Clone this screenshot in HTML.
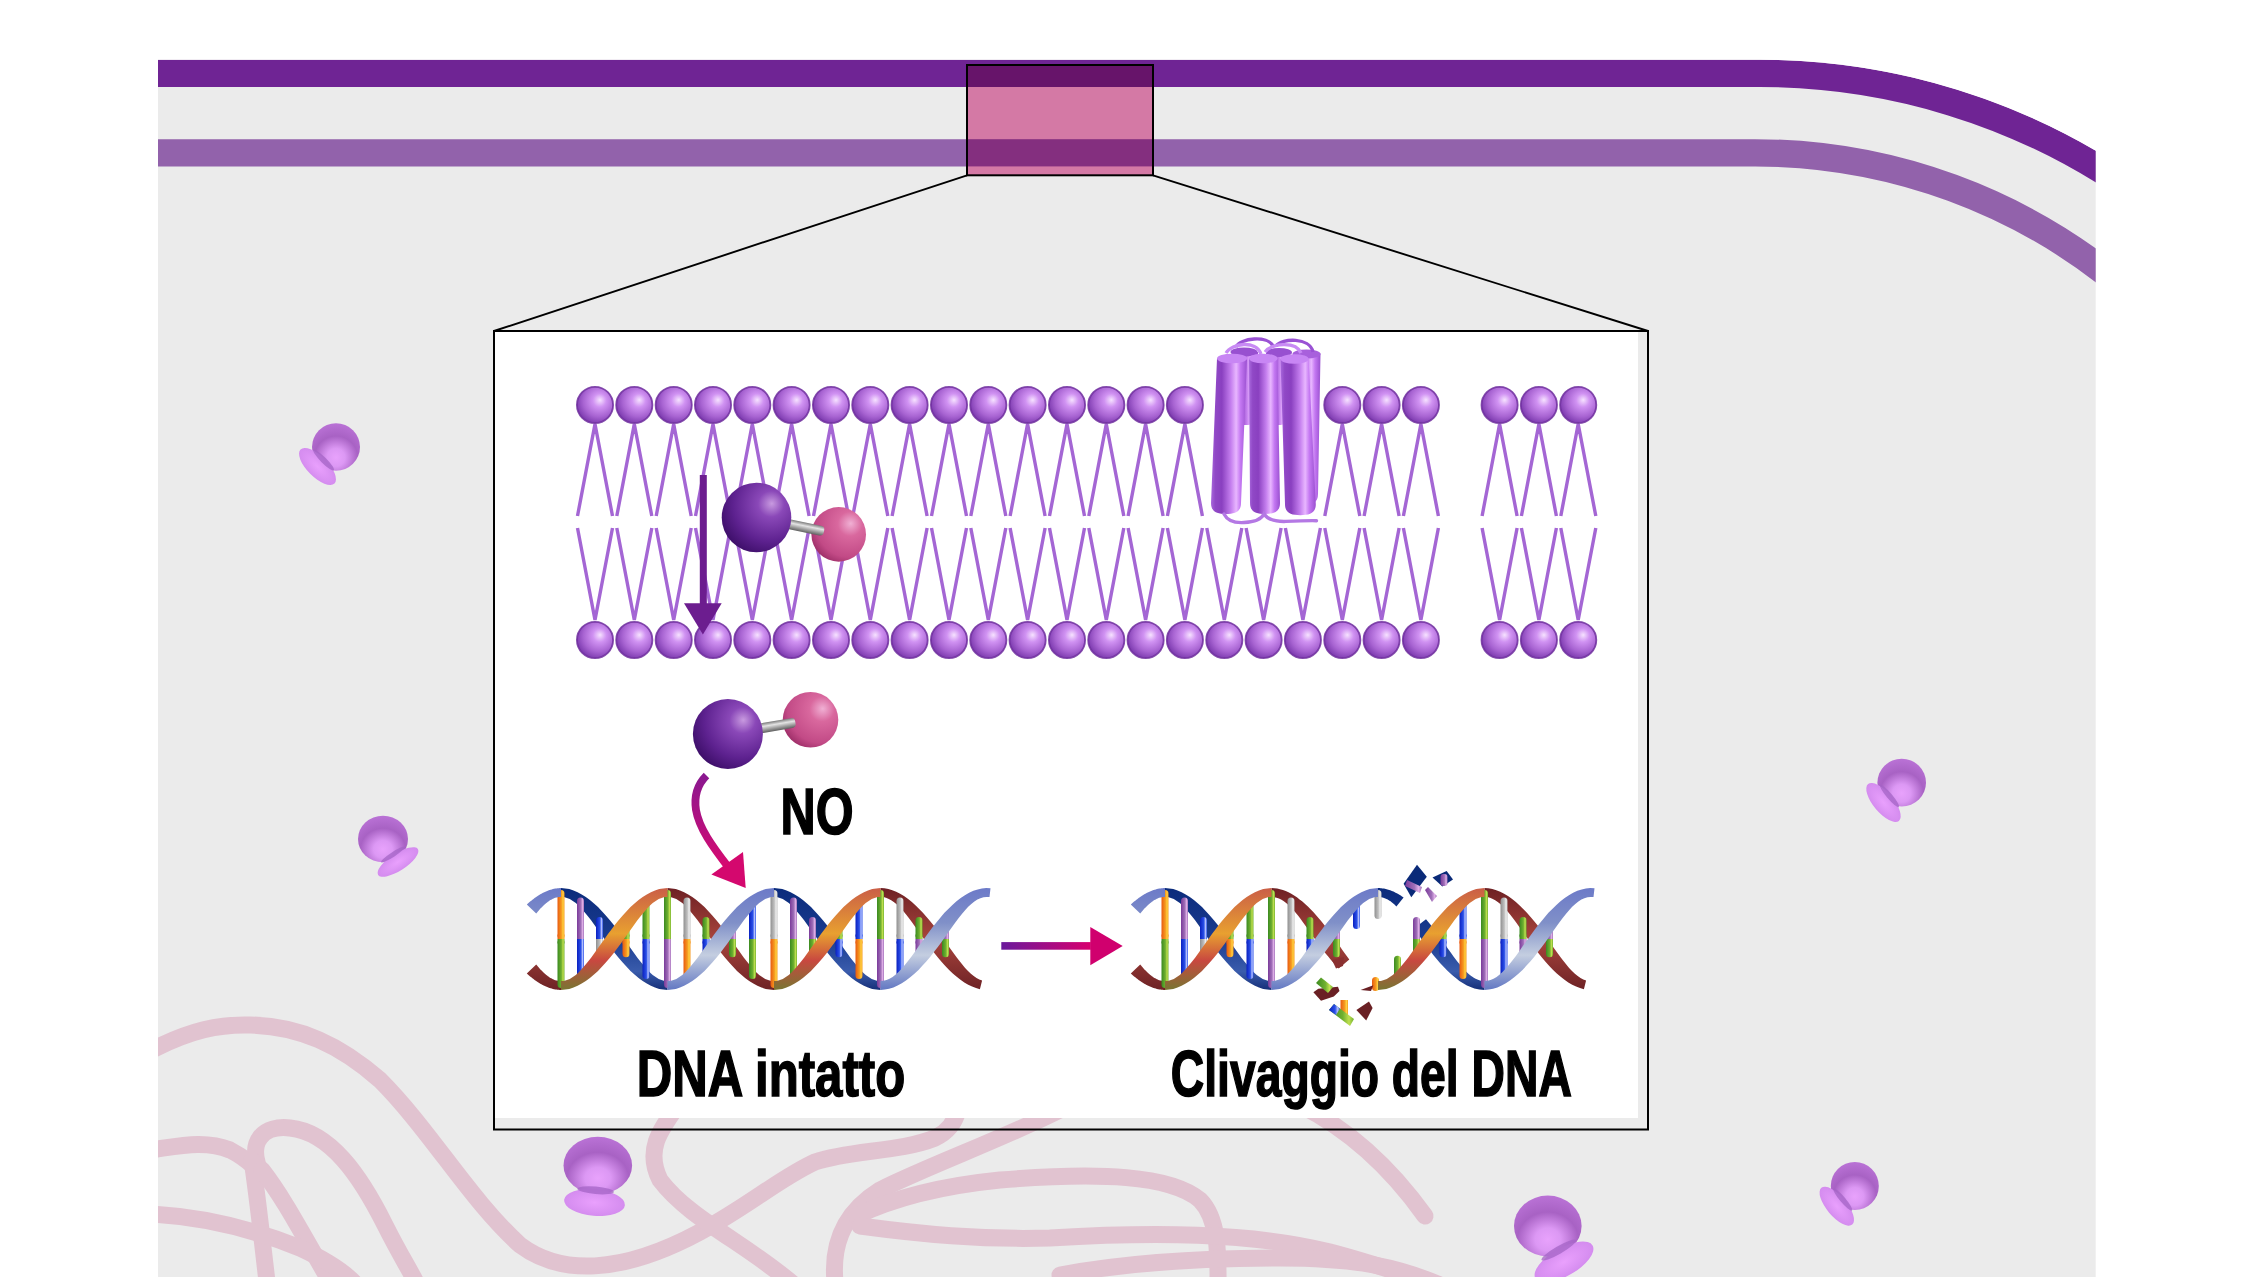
<!DOCTYPE html>
<html><head><meta charset="utf-8"><style>
html,body{margin:0;padding:0;background:#fff;width:2267px;height:1277px;overflow:hidden}
svg{display:block}
text{font-family:"Liberation Sans",sans-serif}
</style></head><body><svg width="2267" height="1277" viewBox="0 0 2267 1277"><defs>
<radialGradient id="head" cx="0.6" cy="0.4" r="0.62" fx="0.64" fy="0.36">
  <stop offset="0" stop-color="#f6e2ff"/>
  <stop offset="0.3" stop-color="#d092f2"/>
  <stop offset="0.7" stop-color="#a864d2"/>
  <stop offset="1" stop-color="#7e3cb0"/>
</radialGradient>
<radialGradient id="atomN" cx="0.68" cy="0.32" r="0.75" fx="0.72" fy="0.3">
  <stop offset="0" stop-color="#c89ae0"/>
  <stop offset="0.25" stop-color="#8a48b8"/>
  <stop offset="0.7" stop-color="#5e2290"/>
  <stop offset="1" stop-color="#3e0f6a"/>
</radialGradient>
<radialGradient id="atomO" cx="0.68" cy="0.32" r="0.75" fx="0.72" fy="0.3">
  <stop offset="0" stop-color="#f0b0d4"/>
  <stop offset="0.3" stop-color="#d9689e"/>
  <stop offset="0.8" stop-color="#c24a86"/>
  <stop offset="1" stop-color="#a0306a"/>
</radialGradient>
<linearGradient id="bond" x1="0" y1="0" x2="0" y2="1">
  <stop offset="0" stop-color="#7a7a7a"/>
  <stop offset="0.35" stop-color="#e4e4e4"/>
  <stop offset="0.6" stop-color="#b0b0b0"/>
  <stop offset="1" stop-color="#606060"/>
</linearGradient>
<radialGradient id="ribo" cx="0.5" cy="0.72" r="0.75">
  <stop offset="0" stop-color="#e8a2fc"/>
  <stop offset="0.25" stop-color="#dc98f4"/>
  <stop offset="0.6" stop-color="#a862c4"/>
  <stop offset="1" stop-color="#bc74d8"/>
</radialGradient>
<radialGradient id="ribo2" cx="0.5" cy="0.5" r="0.6">
  <stop offset="0" stop-color="#e9a0fd"/>
  <stop offset="1" stop-color="#d088ec"/>
</radialGradient>
<linearGradient id="cyl" x1="0" y1="0" x2="1" y2="0">
  <stop offset="0" stop-color="#a868dc"/>
  <stop offset="0.12" stop-color="#9048c6"/>
  <stop offset="0.3" stop-color="#8a40c0"/>
  <stop offset="0.55" stop-color="#c47eee"/>
  <stop offset="0.7" stop-color="#e8b6ff"/>
  <stop offset="0.82" stop-color="#c478f2"/>
  <stop offset="1" stop-color="#9a50d0"/>
</linearGradient>
<linearGradient id="arrow1" x1="0" y1="0" x2="0" y2="1">
  <stop offset="0" stop-color="#8a1890"/>
  <stop offset="1" stop-color="#d80a70"/>
</linearGradient>
<linearGradient id="arrow2" x1="0" y1="0" x2="1" y2="0">
  <stop offset="0" stop-color="#6a1a9c"/>
  <stop offset="1" stop-color="#d8006e"/>
</linearGradient>
<linearGradient id="baro" x1="0" y1="0" x2="1" y2="0"><stop offset="0" stop-color="#e85a10"/><stop offset="0.55" stop-color="#f59a20"/><stop offset="0.8" stop-color="#ffd040"/><stop offset="1" stop-color="#f59a20"/></linearGradient><linearGradient id="barg" x1="0" y1="0" x2="1" y2="0"><stop offset="0" stop-color="#3a8a20"/><stop offset="0.55" stop-color="#70b030"/><stop offset="0.8" stop-color="#c0e050"/><stop offset="1" stop-color="#70b030"/></linearGradient><linearGradient id="barp" x1="0" y1="0" x2="1" y2="0"><stop offset="0" stop-color="#7a3a9a"/><stop offset="0.55" stop-color="#a070b8"/><stop offset="0.8" stop-color="#e0b0e8"/><stop offset="1" stop-color="#a070b8"/></linearGradient><linearGradient id="barb" x1="0" y1="0" x2="1" y2="0"><stop offset="0" stop-color="#0a20c0"/><stop offset="0.55" stop-color="#2a50e8"/><stop offset="0.8" stop-color="#b8c4ff"/><stop offset="1" stop-color="#2a50e8"/></linearGradient><linearGradient id="bary" x1="0" y1="0" x2="1" y2="0"><stop offset="0" stop-color="#909090"/><stop offset="0.55" stop-color="#c0c0c0"/><stop offset="0.8" stop-color="#f0f0f0"/><stop offset="1" stop-color="#c0c0c0"/></linearGradient><linearGradient id="Aback" gradientUnits="userSpaceOnUse" x1="0" y1="885" x2="0" y2="993"><stop offset="0" stop-color="#0a2a7a"/><stop offset="0.5" stop-color="#1a3c90"/><stop offset="0.8" stop-color="#3a5cac"/><stop offset="1" stop-color="#102870"/></linearGradient><linearGradient id="Afront" gradientUnits="userSpaceOnUse" x1="0" y1="885" x2="0" y2="993"><stop offset="0" stop-color="#6a78c8"/><stop offset="0.35" stop-color="#8090c8"/><stop offset="0.65" stop-color="#c4cee0"/><stop offset="1" stop-color="#5a70c0"/></linearGradient><linearGradient id="Bback" gradientUnits="userSpaceOnUse" x1="0" y1="885" x2="0" y2="993"><stop offset="0" stop-color="#6a1e22"/><stop offset="0.5" stop-color="#a8443c"/><stop offset="1" stop-color="#6a2024"/></linearGradient><linearGradient id="Bfront" gradientUnits="userSpaceOnUse" x1="0" y1="885" x2="0" y2="993"><stop offset="0" stop-color="#c85a48"/><stop offset="0.45" stop-color="#e8a030"/><stop offset="0.7" stop-color="#c84840"/><stop offset="1" stop-color="#707a30"/></linearGradient><clipPath id="grayclip"><path d="M158,59.8 L1760,59.8 A665.6,665.6 0 0 1 2095.7,150.7 L2095.7,1277 L158,1277 Z"/></clipPath></defs><path d="M158,59.8 L1760,59.8 A665.6,665.6 0 0 1 2095.7,150.7 L2095.7,1277 L158,1277 Z" fill="#ebebeb"/><g clip-path="url(#grayclip)" fill="none" stroke="#e1c3d0" stroke-width="17" stroke-linecap="round"><path d="M150,1051 C190,1030 220,1024 250,1025 C300,1026 340,1045 380,1080 C430,1130 470,1200 520,1245 C560,1275 620,1275 700,1232 C750,1205 780,1178 815,1162 C850,1150 900,1152 935,1138 C948,1132 955,1122 958,1110"/><path d="M150,1150 C180,1146 205,1140 230,1150 C250,1160 262,1175 262,1175"/><path d="M262,1175 C245,1140 265,1125 290,1128 C330,1132 360,1175 385,1225 C400,1255 410,1270 420,1290"/><path d="M252,1160 C258,1200 262,1240 268,1290"/><path d="M262,1170 C285,1200 300,1230 335,1290"/><path d="M150,1214 C200,1216 250,1228 300,1248 C330,1262 350,1275 360,1290"/><path d="M678,1105 C660,1130 645,1150 660,1180 C690,1220 750,1245 800,1290"/><path d="M1060,1110 C1000,1140 930,1165 880,1190 C840,1215 830,1250 836,1290"/><path d="M856,1216 C900,1195 950,1185 1000,1180 C1100,1172 1170,1175 1200,1200 C1220,1220 1218,1260 1218,1290"/><path d="M860,1226 C920,1234 980,1240 1050,1238 C1150,1232 1250,1232 1330,1252 C1380,1265 1420,1280 1450,1290"/><path d="M1060,1275 C1130,1262 1200,1258 1280,1258 C1360,1258 1400,1268 1440,1285"/><path d="M1300,1105 C1340,1125 1385,1160 1425,1216"/></g><g clip-path="url(#grayclip)"><path d="M150,73.4 L1760,73.4 A652,652 0 0 1 2125.7,185.6" fill="none" stroke="#6f2494" stroke-width="27.3"/><path d="M150,152.8 L1755,152.8 A572.6,572.6 0 0 1 2125.7,289.0" fill="none" stroke="#9262ab" stroke-width="27.3"/></g><rect x="967" y="65" width="186" height="110.3" fill="#d479a5"/><rect x="967" y="65" width="186" height="22" fill="#67146a"/><rect x="967" y="139.2" width="186" height="27.2" fill="#842f7f"/><rect x="967" y="65" width="186" height="110.3" fill="none" stroke="#000" stroke-width="2"/><path d="M967,175.3 L494,331 M1153,175.3 L1648,331" stroke="#000" stroke-width="1.9" fill="none"/><g><ellipse cx="336" cy="447" rx="24" ry="23.8" fill="url(#ribo)" transform="rotate(0 336 447)"/><ellipse cx="317.5" cy="466.5" rx="24" ry="10.3" fill="url(#ribo2)" transform="rotate(45 317.5 466.5)"/><ellipse cx="323.6" cy="460.1" rx="14.4" ry="2.9" fill="#a464c6" opacity="0.75" transform="rotate(45 323.6 460.1)"/></g><g><ellipse cx="383" cy="839" rx="25" ry="23.3" fill="url(#ribo)" transform="rotate(0 383 839)"/><ellipse cx="398" cy="862" rx="23.7" ry="8.5" fill="url(#ribo2)" transform="rotate(-33 398 862)"/><ellipse cx="393.1" cy="854.4" rx="14.2" ry="2.4" fill="#a464c6" opacity="0.75" transform="rotate(-33 393.1 854.4)"/></g><g><ellipse cx="597.8" cy="1165.5" rx="34.3" ry="28.7" fill="url(#ribo)" transform="rotate(0 597.8 1165.5)"/><ellipse cx="594.5" cy="1202.5" rx="30.5" ry="13.4" fill="url(#ribo2)" transform="rotate(5 594.5 1202.5)"/><ellipse cx="595.6" cy="1190.3" rx="18.3" ry="3.8" fill="#a464c6" opacity="0.75" transform="rotate(5 595.6 1190.3)"/></g><g><ellipse cx="1901.7" cy="782.7" rx="24.3" ry="23.9" fill="url(#ribo)" transform="rotate(0 1901.7 782.7)"/><ellipse cx="1883.5" cy="802.5" rx="24" ry="10" fill="url(#ribo2)" transform="rotate(50 1883.5 802.5)"/><ellipse cx="1889.5" cy="796.0" rx="14.4" ry="2.8" fill="#a464c6" opacity="0.75" transform="rotate(50 1889.5 796.0)"/></g><g><ellipse cx="1854.8" cy="1186" rx="24" ry="24" fill="url(#ribo)" transform="rotate(0 1854.8 1186)"/><ellipse cx="1836.8" cy="1206.2" rx="24" ry="10" fill="url(#ribo2)" transform="rotate(50 1836.8 1206.2)"/><ellipse cx="1842.7" cy="1199.5" rx="14.4" ry="2.8" fill="#a464c6" opacity="0.75" transform="rotate(50 1842.7 1199.5)"/></g><g><ellipse cx="1547.8" cy="1226" rx="33.8" ry="30.4" fill="url(#ribo)" transform="rotate(0 1547.8 1226)"/><ellipse cx="1564" cy="1262" rx="33" ry="14" fill="url(#ribo2)" transform="rotate(-30 1564 1262)"/><ellipse cx="1558.7" cy="1250.1" rx="19.8" ry="3.9" fill="#a464c6" opacity="0.75" transform="rotate(-30 1558.7 1250.1)"/></g><rect x="494" y="331" width="1144" height="787" fill="#ffffff"/><rect x="494" y="331" width="1154" height="798.5" fill="none" stroke="#000" stroke-width="2"/><path d="M577.5,516 L595.0,424 L612.5,516 M616.8,516 L634.3,424 L651.8,516 M656.2,516 L673.7,424 L691.2,516 M695.5,516 L713.0,424 L730.5,516 M734.8,516 L752.3,424 L769.8,516 M774.1,516 L791.6,424 L809.1,516 M813.5,516 L831.0,424 L848.5,516 M852.8,516 L870.3,424 L887.8,516 M892.1,516 L909.6,424 L927.1,516 M931.5,516 L949.0,424 L966.5,516 M970.8,516 L988.3,424 L1005.8,516 M1010.1,516 L1027.6,424 L1045.1,516 M1049.5,516 L1067.0,424 L1084.5,516 M1088.8,516 L1106.3,424 L1123.8,516 M1128.1,516 L1145.6,424 L1163.1,516 M1167.4,516 L1184.9,424 L1202.4,516 M1324.8,516 L1342.3,424 L1359.8,516 M1364.1,516 L1381.6,424 L1399.1,516 M1403.4,516 L1420.9,424 L1438.4,516 M1482.1,516 L1499.6,424 L1517.1,516 M1521.4,516 L1538.9,424 L1556.4,516 M1560.8,516 L1578.2,424 L1595.8,516 M577.5,528 L595.0,620 L612.5,528 M616.8,528 L634.3,620 L651.8,528 M656.2,528 L673.7,620 L691.2,528 M695.5,528 L713.0,620 L730.5,528 M734.8,528 L752.3,620 L769.8,528 M774.1,528 L791.6,620 L809.1,528 M813.5,528 L831.0,620 L848.5,528 M852.8,528 L870.3,620 L887.8,528 M892.1,528 L909.6,620 L927.1,528 M931.5,528 L949.0,620 L966.5,528 M970.8,528 L988.3,620 L1005.8,528 M1010.1,528 L1027.6,620 L1045.1,528 M1049.5,528 L1067.0,620 L1084.5,528 M1088.8,528 L1106.3,620 L1123.8,528 M1128.1,528 L1145.6,620 L1163.1,528 M1167.4,528 L1184.9,620 L1202.4,528 M1206.8,528 L1224.3,620 L1241.8,528 M1246.1,528 L1263.6,620 L1281.1,528 M1285.4,528 L1302.9,620 L1320.4,528 M1324.8,528 L1342.3,620 L1359.8,528 M1364.1,528 L1381.6,620 L1399.1,528 M1403.4,528 L1420.9,620 L1438.4,528 M1482.1,528 L1499.6,620 L1517.1,528 M1521.4,528 L1538.9,620 L1556.4,528 M1560.8,528 L1578.2,620 L1595.8,528" fill="none" stroke="#a466d4" stroke-width="3.4"/><circle cx="595.0" cy="405" r="18.1" fill="url(#head)" stroke="#6e2e9e" stroke-opacity="0.85" stroke-width="1.8"/><circle cx="634.3" cy="405" r="18.1" fill="url(#head)" stroke="#6e2e9e" stroke-opacity="0.85" stroke-width="1.8"/><circle cx="673.7" cy="405" r="18.1" fill="url(#head)" stroke="#6e2e9e" stroke-opacity="0.85" stroke-width="1.8"/><circle cx="713.0" cy="405" r="18.1" fill="url(#head)" stroke="#6e2e9e" stroke-opacity="0.85" stroke-width="1.8"/><circle cx="752.3" cy="405" r="18.1" fill="url(#head)" stroke="#6e2e9e" stroke-opacity="0.85" stroke-width="1.8"/><circle cx="791.6" cy="405" r="18.1" fill="url(#head)" stroke="#6e2e9e" stroke-opacity="0.85" stroke-width="1.8"/><circle cx="831.0" cy="405" r="18.1" fill="url(#head)" stroke="#6e2e9e" stroke-opacity="0.85" stroke-width="1.8"/><circle cx="870.3" cy="405" r="18.1" fill="url(#head)" stroke="#6e2e9e" stroke-opacity="0.85" stroke-width="1.8"/><circle cx="909.6" cy="405" r="18.1" fill="url(#head)" stroke="#6e2e9e" stroke-opacity="0.85" stroke-width="1.8"/><circle cx="949.0" cy="405" r="18.1" fill="url(#head)" stroke="#6e2e9e" stroke-opacity="0.85" stroke-width="1.8"/><circle cx="988.3" cy="405" r="18.1" fill="url(#head)" stroke="#6e2e9e" stroke-opacity="0.85" stroke-width="1.8"/><circle cx="1027.6" cy="405" r="18.1" fill="url(#head)" stroke="#6e2e9e" stroke-opacity="0.85" stroke-width="1.8"/><circle cx="1067.0" cy="405" r="18.1" fill="url(#head)" stroke="#6e2e9e" stroke-opacity="0.85" stroke-width="1.8"/><circle cx="1106.3" cy="405" r="18.1" fill="url(#head)" stroke="#6e2e9e" stroke-opacity="0.85" stroke-width="1.8"/><circle cx="1145.6" cy="405" r="18.1" fill="url(#head)" stroke="#6e2e9e" stroke-opacity="0.85" stroke-width="1.8"/><circle cx="1184.9" cy="405" r="18.1" fill="url(#head)" stroke="#6e2e9e" stroke-opacity="0.85" stroke-width="1.8"/><circle cx="1342.3" cy="405" r="18.1" fill="url(#head)" stroke="#6e2e9e" stroke-opacity="0.85" stroke-width="1.8"/><circle cx="1381.6" cy="405" r="18.1" fill="url(#head)" stroke="#6e2e9e" stroke-opacity="0.85" stroke-width="1.8"/><circle cx="1420.9" cy="405" r="18.1" fill="url(#head)" stroke="#6e2e9e" stroke-opacity="0.85" stroke-width="1.8"/><circle cx="1499.6" cy="405" r="18.1" fill="url(#head)" stroke="#6e2e9e" stroke-opacity="0.85" stroke-width="1.8"/><circle cx="1538.9" cy="405" r="18.1" fill="url(#head)" stroke="#6e2e9e" stroke-opacity="0.85" stroke-width="1.8"/><circle cx="1578.2" cy="405" r="18.1" fill="url(#head)" stroke="#6e2e9e" stroke-opacity="0.85" stroke-width="1.8"/><circle cx="595.0" cy="640" r="18.1" fill="url(#head)" stroke="#6e2e9e" stroke-opacity="0.85" stroke-width="1.8"/><circle cx="634.3" cy="640" r="18.1" fill="url(#head)" stroke="#6e2e9e" stroke-opacity="0.85" stroke-width="1.8"/><circle cx="673.7" cy="640" r="18.1" fill="url(#head)" stroke="#6e2e9e" stroke-opacity="0.85" stroke-width="1.8"/><circle cx="713.0" cy="640" r="18.1" fill="url(#head)" stroke="#6e2e9e" stroke-opacity="0.85" stroke-width="1.8"/><circle cx="752.3" cy="640" r="18.1" fill="url(#head)" stroke="#6e2e9e" stroke-opacity="0.85" stroke-width="1.8"/><circle cx="791.6" cy="640" r="18.1" fill="url(#head)" stroke="#6e2e9e" stroke-opacity="0.85" stroke-width="1.8"/><circle cx="831.0" cy="640" r="18.1" fill="url(#head)" stroke="#6e2e9e" stroke-opacity="0.85" stroke-width="1.8"/><circle cx="870.3" cy="640" r="18.1" fill="url(#head)" stroke="#6e2e9e" stroke-opacity="0.85" stroke-width="1.8"/><circle cx="909.6" cy="640" r="18.1" fill="url(#head)" stroke="#6e2e9e" stroke-opacity="0.85" stroke-width="1.8"/><circle cx="949.0" cy="640" r="18.1" fill="url(#head)" stroke="#6e2e9e" stroke-opacity="0.85" stroke-width="1.8"/><circle cx="988.3" cy="640" r="18.1" fill="url(#head)" stroke="#6e2e9e" stroke-opacity="0.85" stroke-width="1.8"/><circle cx="1027.6" cy="640" r="18.1" fill="url(#head)" stroke="#6e2e9e" stroke-opacity="0.85" stroke-width="1.8"/><circle cx="1067.0" cy="640" r="18.1" fill="url(#head)" stroke="#6e2e9e" stroke-opacity="0.85" stroke-width="1.8"/><circle cx="1106.3" cy="640" r="18.1" fill="url(#head)" stroke="#6e2e9e" stroke-opacity="0.85" stroke-width="1.8"/><circle cx="1145.6" cy="640" r="18.1" fill="url(#head)" stroke="#6e2e9e" stroke-opacity="0.85" stroke-width="1.8"/><circle cx="1184.9" cy="640" r="18.1" fill="url(#head)" stroke="#6e2e9e" stroke-opacity="0.85" stroke-width="1.8"/><circle cx="1224.3" cy="640" r="18.1" fill="url(#head)" stroke="#6e2e9e" stroke-opacity="0.85" stroke-width="1.8"/><circle cx="1263.6" cy="640" r="18.1" fill="url(#head)" stroke="#6e2e9e" stroke-opacity="0.85" stroke-width="1.8"/><circle cx="1302.9" cy="640" r="18.1" fill="url(#head)" stroke="#6e2e9e" stroke-opacity="0.85" stroke-width="1.8"/><circle cx="1342.3" cy="640" r="18.1" fill="url(#head)" stroke="#6e2e9e" stroke-opacity="0.85" stroke-width="1.8"/><circle cx="1381.6" cy="640" r="18.1" fill="url(#head)" stroke="#6e2e9e" stroke-opacity="0.85" stroke-width="1.8"/><circle cx="1420.9" cy="640" r="18.1" fill="url(#head)" stroke="#6e2e9e" stroke-opacity="0.85" stroke-width="1.8"/><circle cx="1499.6" cy="640" r="18.1" fill="url(#head)" stroke="#6e2e9e" stroke-opacity="0.85" stroke-width="1.8"/><circle cx="1538.9" cy="640" r="18.1" fill="url(#head)" stroke="#6e2e9e" stroke-opacity="0.85" stroke-width="1.8"/><circle cx="1578.2" cy="640" r="18.1" fill="url(#head)" stroke="#6e2e9e" stroke-opacity="0.85" stroke-width="1.8"/><path d="M1233,352 L1258,352 L1258,416 C1258,423.2 1253.0,425 1245.5,425 C1238.0,425 1233,423.2 1233,416 Z" fill="url(#cyl)"/><path d="M1266,352 L1290,352 L1290,416 C1290,423.2 1285.2,425 1278.0,425 C1270.8,425 1266,423.2 1266,416 Z" fill="url(#cyl)"/><path d="M1293,353.5 L1320.5,353.5 L1318,494 C1318,502.8 1312.4,505 1304.0,505 C1295.6,505 1290,502.8 1290,494 Z" fill="url(#cyl)"/><ellipse cx="1244" cy="352" rx="13.5" ry="4.5" fill="#9850d0"/><ellipse cx="1279" cy="352.5" rx="13" ry="4.5" fill="#9850d0"/><ellipse cx="1306.5" cy="354" rx="14" ry="4.5" fill="#a860dc"/><path d="M1236,347 C1240,338 1268,335 1273,346" fill="none" stroke="#9a52d4" stroke-width="3.3"/><path d="M1276,346 C1282,338 1310,337 1313,352" fill="none" stroke="#9a52d4" stroke-width="3.3"/><path d="M1226,353 C1232,343 1256,340 1261,354" fill="none" stroke="#c88af4" stroke-width="3.3"/><path d="M1265,352 C1272,343 1296,341 1301,353" fill="none" stroke="#c88af4" stroke-width="3.3"/><path d="M1217,358.5 L1247,358.5 L1241,503 C1241,511.8 1235.0,514 1226.0,514 C1217.0,514 1211,511.8 1211,503 Z" fill="url(#cyl)"/><ellipse cx="1232.0" cy="358.5" rx="15.0" ry="4.8" fill="#c886f4"/><path d="M1249,358.5 L1277.5,358.5 L1280,503 C1280,511.8 1274.0,514 1265.0,514 C1256.0,514 1250,511.8 1250,503 Z" fill="url(#cyl)"/><ellipse cx="1263.25" cy="358.5" rx="14.25" ry="4.8" fill="#c886f4"/><path d="M1280.5,359 L1308.6,359 L1315.8,504.20000000000005 C1315.8,513.0 1309.6,515.2 1300.4,515.2 C1291.2,515.2 1285,513.0 1285,504.20000000000005 Z" fill="url(#cyl)"/><ellipse cx="1294.55" cy="359" rx="14.049999999999955" ry="4.8" fill="#c886f4"/><path d="M1224,514 C1228,522 1236,523 1244,522.5 C1256,522 1262,518 1264,514 C1268,520 1276,521.5 1284,521.5 C1295,521 1305,520.5 1316.5,520.7" fill="none" stroke="#b478e4" stroke-width="3.4" stroke-linecap="round"/><rect x="699.8" y="475" width="7" height="130" fill="#6c1d8f"/><path d="M684,603.3 L721.7,603.3 L702.9,634.6 Z" fill="#6c1d8f"/><circle cx="838.7" cy="534.4" r="27.3" fill="url(#atomO)"/><g transform="translate(756.5,517.5) rotate(11.62)"><rect x="27.8" y="-5" width="41.1" height="10" rx="4" fill="url(#bond)"/></g><circle cx="756.5" cy="517.5" r="34.8" fill="url(#atomN)"/><circle cx="810.5" cy="719.8" r="27.8" fill="url(#atomO)"/><g transform="translate(727.9,734) rotate(-9.75)"><rect x="28.0" y="-5" width="40.5" height="10" rx="4" fill="url(#bond)"/></g><circle cx="727.9" cy="734" r="35" fill="url(#atomN)"/><path d="M706.5,775.5 C697,785 694,797 696,810 C699,828 712,846 729,868" fill="none" stroke="url(#arrow1)" stroke-width="7.8" stroke-linecap="butt"/><path d="M711.4,874.5 L743,852 L745.7,888 Z" fill="#d4086e"/><text x="780.5" y="834.1" font-family="Liberation Sans" font-weight="bold" font-size="65.3" textLength="73" lengthAdjust="spacingAndGlyphs" fill="#000" stroke="#000" stroke-width="1.6">NO</text><text x="636.7" y="1096" font-family="Liberation Sans" font-weight="bold" font-size="65.3" stroke="#000" stroke-width="1.6" textLength="268.5" lengthAdjust="spacingAndGlyphs" fill="#000">DNA intatto</text><text x="1170.8" y="1095.9" font-family="Liberation Sans" font-weight="bold" font-size="65.3" stroke="#000" stroke-width="1.6" textLength="401" lengthAdjust="spacingAndGlyphs" fill="#000">Clivaggio del DNA</text><g><path d="M526.8,973.5 L527.9,974.5 L529.0,975.4 L530.1,976.4 L531.3,977.3 L532.4,978.2 L533.5,979.1 L534.6,979.9 L535.8,980.7 L536.9,981.5 L538.0,982.3 L539.2,983.0 L540.3,983.7 L541.4,984.3 L542.6,984.9 L543.7,985.5 L544.9,986.1 L546.0,986.6 L547.2,987.1 L548.3,987.5 L549.5,987.9 L550.6,988.3 L551.8,988.6 L552.9,988.9 L554.1,989.2 L555.2,989.4 L556.4,989.6 L557.5,989.7 L558.7,989.8 L559.8,989.9 L561.0,989.9 L561.0,981.1 L560.2,981.1 L559.4,981.0 L558.6,980.9 L557.8,980.8 L557.0,980.6 L556.1,980.4 L555.3,980.2 L554.5,979.9 L553.7,979.6 L552.9,979.2 L552.1,978.8 L551.2,978.3 L550.4,977.9 L549.6,977.4 L548.8,976.8 L547.9,976.2 L547.1,975.6 L546.3,974.9 L545.5,974.2 L544.6,973.5 L543.8,972.7 L543.0,972.0 L542.1,971.1 L541.3,970.3 L540.4,969.4 L539.6,968.5 L538.8,967.5 L537.9,966.5 L537.1,965.5 L536.2,964.5Z" fill="url(#Bback)"/><path d="M561.0,896.9 L563.9,897.1 L566.9,897.9 L569.8,899.1 L572.8,900.9 L575.8,903.1 L578.8,905.8 L581.8,908.9 L584.8,912.4 L587.9,916.2 L591.1,920.3 L594.3,924.7 L597.5,929.3 L600.9,934.0 L604.3,938.8 L607.8,943.7 L611.4,948.6 L615.1,953.4 L618.8,958.0 L622.7,962.5 L626.6,966.8 L630.5,970.9 L634.5,974.6 L638.6,978.0 L642.7,981.0 L646.8,983.6 L650.9,985.8 L655.0,987.6 L659.2,988.9 L663.3,989.6 L667.5,989.9 L667.5,981.1 L664.6,980.9 L661.6,980.1 L658.7,978.9 L655.7,977.1 L652.7,974.9 L649.7,972.2 L646.7,969.1 L643.7,965.6 L640.6,961.8 L637.4,957.7 L634.2,953.3 L631.0,948.7 L627.6,944.0 L624.2,939.2 L620.7,934.3 L617.1,929.4 L613.4,924.6 L609.7,920.0 L605.8,915.5 L601.9,911.2 L598.0,907.1 L594.0,903.4 L589.9,900.0 L585.8,897.0 L581.7,894.4 L577.6,892.2 L573.5,890.4 L569.3,889.1 L565.2,888.4 L561.0,888.1Z" fill="url(#Aback)"/><path d="M667.5,896.9 L670.4,897.1 L673.4,897.9 L676.3,899.1 L679.3,900.9 L682.3,903.1 L685.3,905.8 L688.3,908.9 L691.3,912.4 L694.4,916.2 L697.6,920.3 L700.8,924.7 L704.0,929.3 L707.4,934.0 L710.8,938.8 L714.3,943.7 L717.9,948.6 L721.6,953.4 L725.3,958.0 L729.2,962.5 L733.1,966.8 L737.0,970.9 L741.0,974.6 L745.1,978.0 L749.2,981.0 L753.3,983.6 L757.4,985.8 L761.5,987.6 L765.7,988.9 L769.8,989.6 L774.0,989.9 L774.0,981.1 L771.1,980.9 L768.1,980.1 L765.2,978.9 L762.2,977.1 L759.2,974.9 L756.2,972.2 L753.2,969.1 L750.2,965.6 L747.1,961.8 L743.9,957.7 L740.7,953.3 L737.5,948.7 L734.1,944.0 L730.7,939.2 L727.2,934.3 L723.6,929.4 L719.9,924.6 L716.2,920.0 L712.3,915.5 L708.4,911.2 L704.5,907.1 L700.5,903.4 L696.4,900.0 L692.3,897.0 L688.2,894.4 L684.1,892.2 L680.0,890.4 L675.8,889.1 L671.7,888.4 L667.5,888.1Z" fill="url(#Bback)"/><path d="M774.0,896.9 L776.9,897.1 L779.9,897.9 L782.8,899.1 L785.8,900.9 L788.8,903.1 L791.8,905.8 L794.8,908.9 L797.8,912.4 L800.9,916.2 L804.1,920.3 L807.3,924.7 L810.5,929.3 L813.9,934.0 L817.3,938.8 L820.8,943.7 L824.4,948.6 L828.1,953.4 L831.8,958.0 L835.7,962.5 L839.6,966.8 L843.5,970.9 L847.5,974.6 L851.6,978.0 L855.7,981.0 L859.8,983.6 L863.9,985.8 L868.0,987.6 L872.2,988.9 L876.3,989.6 L880.5,989.9 L880.5,981.1 L877.6,980.9 L874.6,980.1 L871.7,978.9 L868.7,977.1 L865.7,974.9 L862.7,972.2 L859.7,969.1 L856.7,965.6 L853.6,961.8 L850.4,957.7 L847.2,953.3 L844.0,948.7 L840.6,944.0 L837.2,939.2 L833.7,934.3 L830.1,929.4 L826.4,924.6 L822.7,920.0 L818.8,915.5 L814.9,911.2 L811.0,907.1 L807.0,903.4 L802.9,900.0 L798.8,897.0 L794.7,894.4 L790.6,892.2 L786.5,890.4 L782.3,889.1 L778.2,888.4 L774.0,888.1Z" fill="url(#Aback)"/><path d="M880.5,896.9 L883.3,897.1 L886.0,897.8 L888.8,898.9 L891.6,900.4 L894.4,902.4 L897.2,904.8 L900.1,907.6 L903.0,910.7 L905.9,914.2 L908.8,918.0 L911.8,922.0 L914.8,926.2 L917.9,930.5 L921.1,935.0 L924.3,939.6 L927.6,944.2 L931.0,948.8 L934.5,953.3 L938.1,957.7 L941.7,962.0 L945.3,966.1 L949.1,969.9 L952.8,973.5 L956.7,976.8 L960.5,979.8 L964.3,982.5 L968.2,984.8 L972.1,986.6 L976.0,988.1 L979.9,989.2 L982.1,980.4 L979.3,979.4 L976.5,977.9 L973.7,976.0 L970.9,973.7 L968.0,971.0 L965.1,967.9 L962.3,964.5 L959.3,960.8 L956.4,956.9 L953.3,952.7 L950.2,948.4 L947.1,943.9 L943.9,939.4 L940.6,934.8 L937.2,930.2 L933.7,925.6 L930.2,921.2 L926.6,916.9 L922.9,912.8 L919.2,908.9 L915.4,905.2 L911.6,901.8 L907.8,898.8 L904.0,896.1 L900.1,893.7 L896.2,891.7 L892.3,890.2 L888.4,889.0 L884.4,888.3 L880.5,888.1Z" fill="url(#Bback)"/><rect x="557.5" y="890.0" width="7.0" height="49.0" rx="3.5" fill="url(#baro)"/><rect x="557.5" y="934.5" width="7.0" height="4.5" fill="url(#baro)"/><rect x="557.5" y="939.0" width="7.0" height="49.0" rx="3.5" fill="url(#barg)"/><rect x="557.5" y="939.0" width="7.0" height="4.5" fill="url(#barg)"/><rect x="577.0" y="897.5" width="7.0" height="41.5" rx="3.5" fill="url(#barp)"/><rect x="577.0" y="934.5" width="7.0" height="4.5" fill="url(#barp)"/><rect x="577.0" y="939.0" width="7.0" height="41.5" rx="3.5" fill="url(#barb)"/><rect x="577.0" y="939.0" width="7.0" height="4.5" fill="url(#barb)"/><rect x="596.0" y="916.9" width="7.0" height="22.1" rx="3.5" fill="url(#barb)"/><rect x="596.0" y="934.5" width="7.0" height="4.5" fill="url(#barb)"/><rect x="596.0" y="939.0" width="7.0" height="22.1" rx="3.5" fill="url(#bary)"/><rect x="596.0" y="939.0" width="7.0" height="4.5" fill="url(#bary)"/><rect x="622.5" y="920.7" width="7.0" height="18.3" rx="3.5" fill="url(#barg)"/><rect x="622.5" y="934.5" width="7.0" height="4.5" fill="url(#barg)"/><rect x="622.5" y="939.0" width="7.0" height="18.3" rx="3.5" fill="url(#baro)"/><rect x="622.5" y="939.0" width="7.0" height="4.5" fill="url(#baro)"/><rect x="642.5" y="899.0" width="7.0" height="40.0" rx="3.5" fill="url(#barg)"/><rect x="642.5" y="934.5" width="7.0" height="4.5" fill="url(#barg)"/><rect x="642.5" y="939.0" width="7.0" height="40.0" rx="3.5" fill="url(#barb)"/><rect x="642.5" y="939.0" width="7.0" height="4.5" fill="url(#barb)"/><rect x="664.0" y="890.0" width="7.0" height="49.0" rx="3.5" fill="url(#barg)"/><rect x="664.0" y="934.5" width="7.0" height="4.5" fill="url(#barg)"/><rect x="664.0" y="939.0" width="7.0" height="49.0" rx="3.5" fill="url(#barp)"/><rect x="664.0" y="939.0" width="7.0" height="4.5" fill="url(#barp)"/><rect x="683.5" y="897.5" width="7.0" height="41.5" rx="3.5" fill="url(#bary)"/><rect x="683.5" y="934.5" width="7.0" height="4.5" fill="url(#bary)"/><rect x="683.5" y="939.0" width="7.0" height="41.5" rx="3.5" fill="url(#baro)"/><rect x="683.5" y="939.0" width="7.0" height="4.5" fill="url(#baro)"/><rect x="702.5" y="916.9" width="7.0" height="22.1" rx="3.5" fill="url(#barg)"/><rect x="702.5" y="934.5" width="7.0" height="4.5" fill="url(#barg)"/><rect x="702.5" y="939.0" width="7.0" height="22.1" rx="3.5" fill="url(#barb)"/><rect x="702.5" y="939.0" width="7.0" height="4.5" fill="url(#barb)"/><rect x="729.0" y="920.7" width="7.0" height="18.3" rx="3.5" fill="url(#barp)"/><rect x="729.0" y="934.5" width="7.0" height="4.5" fill="url(#barp)"/><rect x="729.0" y="939.0" width="7.0" height="18.3" rx="3.5" fill="url(#barg)"/><rect x="729.0" y="939.0" width="7.0" height="4.5" fill="url(#barg)"/><rect x="749.0" y="899.0" width="7.0" height="40.0" rx="3.5" fill="url(#barb)"/><rect x="749.0" y="934.5" width="7.0" height="4.5" fill="url(#barb)"/><rect x="749.0" y="939.0" width="7.0" height="40.0" rx="3.5" fill="url(#barg)"/><rect x="749.0" y="939.0" width="7.0" height="4.5" fill="url(#barg)"/><rect x="770.5" y="890.0" width="7.0" height="49.0" rx="3.5" fill="url(#bary)"/><rect x="770.5" y="934.5" width="7.0" height="4.5" fill="url(#bary)"/><rect x="770.5" y="939.0" width="7.0" height="49.0" rx="3.5" fill="url(#baro)"/><rect x="770.5" y="939.0" width="7.0" height="4.5" fill="url(#baro)"/><rect x="790.0" y="897.5" width="7.0" height="41.5" rx="3.5" fill="url(#barp)"/><rect x="790.0" y="934.5" width="7.0" height="4.5" fill="url(#barp)"/><rect x="790.0" y="939.0" width="7.0" height="41.5" rx="3.5" fill="url(#barg)"/><rect x="790.0" y="939.0" width="7.0" height="4.5" fill="url(#barg)"/><rect x="809.0" y="916.9" width="7.0" height="22.1" rx="3.5" fill="url(#barp)"/><rect x="809.0" y="934.5" width="7.0" height="4.5" fill="url(#barp)"/><rect x="809.0" y="939.0" width="7.0" height="22.1" rx="3.5" fill="url(#barg)"/><rect x="809.0" y="939.0" width="7.0" height="4.5" fill="url(#barg)"/><rect x="835.5" y="920.7" width="7.0" height="18.3" rx="3.5" fill="url(#barg)"/><rect x="835.5" y="934.5" width="7.0" height="4.5" fill="url(#barg)"/><rect x="835.5" y="939.0" width="7.0" height="18.3" rx="3.5" fill="url(#barb)"/><rect x="835.5" y="939.0" width="7.0" height="4.5" fill="url(#barb)"/><rect x="855.5" y="899.0" width="7.0" height="40.0" rx="3.5" fill="url(#barb)"/><rect x="855.5" y="934.5" width="7.0" height="4.5" fill="url(#barb)"/><rect x="855.5" y="939.0" width="7.0" height="40.0" rx="3.5" fill="url(#baro)"/><rect x="855.5" y="939.0" width="7.0" height="4.5" fill="url(#baro)"/><rect x="877.0" y="890.0" width="7.0" height="49.0" rx="3.5" fill="url(#barg)"/><rect x="877.0" y="934.5" width="7.0" height="4.5" fill="url(#barg)"/><rect x="877.0" y="939.0" width="7.0" height="49.0" rx="3.5" fill="url(#barp)"/><rect x="877.0" y="939.0" width="7.0" height="4.5" fill="url(#barp)"/><rect x="896.5" y="897.5" width="7.0" height="41.5" rx="3.5" fill="url(#bary)"/><rect x="896.5" y="934.5" width="7.0" height="4.5" fill="url(#bary)"/><rect x="896.5" y="939.0" width="7.0" height="41.5" rx="3.5" fill="url(#barb)"/><rect x="896.5" y="939.0" width="7.0" height="4.5" fill="url(#barb)"/><rect x="915.5" y="916.9" width="7.0" height="22.1" rx="3.5" fill="url(#barg)"/><rect x="915.5" y="934.5" width="7.0" height="4.5" fill="url(#barg)"/><rect x="915.5" y="939.0" width="7.0" height="22.1" rx="3.5" fill="url(#barp)"/><rect x="915.5" y="939.0" width="7.0" height="4.5" fill="url(#barp)"/><rect x="942.0" y="920.7" width="7.0" height="18.3" rx="3.5" fill="url(#barp)"/><rect x="942.0" y="934.5" width="7.0" height="4.5" fill="url(#barp)"/><rect x="942.0" y="939.0" width="7.0" height="18.3" rx="3.5" fill="url(#barg)"/><rect x="942.0" y="939.0" width="7.0" height="4.5" fill="url(#barg)"/><path d="M536.2,913.5 L537.1,912.5 L537.9,911.5 L538.8,910.5 L539.6,909.5 L540.4,908.6 L541.3,907.7 L542.1,906.9 L543.0,906.0 L543.8,905.3 L544.6,904.5 L545.5,903.8 L546.3,903.1 L547.1,902.4 L547.9,901.8 L548.8,901.2 L549.6,900.6 L550.4,900.1 L551.2,899.7 L552.1,899.2 L552.9,898.8 L553.7,898.4 L554.5,898.1 L555.3,897.8 L556.1,897.6 L557.0,897.4 L557.8,897.2 L558.6,897.1 L559.4,897.0 L560.2,896.9 L561.0,896.9 L561.0,888.1 L559.8,888.1 L558.7,888.2 L557.5,888.3 L556.4,888.4 L555.2,888.6 L554.1,888.8 L552.9,889.1 L551.8,889.4 L550.6,889.7 L549.5,890.1 L548.3,890.5 L547.2,890.9 L546.0,891.4 L544.9,891.9 L543.7,892.5 L542.6,893.1 L541.4,893.7 L540.3,894.3 L539.2,895.0 L538.0,895.7 L536.9,896.5 L535.8,897.3 L534.6,898.1 L533.5,898.9 L532.4,899.8 L531.3,900.7 L530.1,901.6 L529.0,902.6 L527.9,903.5 L526.8,904.5Z" fill="url(#Afront)"/><path d="M561.0,989.9 L565.2,989.6 L569.3,988.9 L573.5,987.6 L577.6,985.8 L581.7,983.6 L585.8,981.0 L589.9,978.0 L594.0,974.6 L598.0,970.9 L601.9,966.8 L605.8,962.5 L609.7,958.0 L613.4,953.4 L617.1,948.6 L620.7,943.7 L624.2,938.8 L627.6,934.0 L631.0,929.3 L634.2,924.7 L637.4,920.3 L640.6,916.2 L643.7,912.4 L646.7,908.9 L649.7,905.8 L652.7,903.1 L655.7,900.9 L658.7,899.1 L661.6,897.9 L664.6,897.1 L667.5,896.9 L667.5,888.1 L663.3,888.4 L659.2,889.1 L655.0,890.4 L650.9,892.2 L646.8,894.4 L642.7,897.0 L638.6,900.0 L634.5,903.4 L630.5,907.1 L626.6,911.2 L622.7,915.5 L618.8,920.0 L615.1,924.6 L611.4,929.4 L607.8,934.3 L604.3,939.2 L600.9,944.0 L597.5,948.7 L594.3,953.3 L591.1,957.7 L587.9,961.8 L584.8,965.6 L581.8,969.1 L578.8,972.2 L575.8,974.9 L572.8,977.1 L569.8,978.9 L566.9,980.1 L563.9,980.9 L561.0,981.1Z" fill="url(#Bfront)"/><path d="M667.5,989.9 L671.7,989.6 L675.8,988.9 L680.0,987.6 L684.1,985.8 L688.2,983.6 L692.3,981.0 L696.4,978.0 L700.5,974.6 L704.5,970.9 L708.4,966.8 L712.3,962.5 L716.2,958.0 L719.9,953.4 L723.6,948.6 L727.2,943.7 L730.7,938.8 L734.1,934.0 L737.5,929.3 L740.7,924.7 L743.9,920.3 L747.1,916.2 L750.2,912.4 L753.2,908.9 L756.2,905.8 L759.2,903.1 L762.2,900.9 L765.2,899.1 L768.1,897.9 L771.1,897.1 L774.0,896.9 L774.0,888.1 L769.8,888.4 L765.7,889.1 L761.5,890.4 L757.4,892.2 L753.3,894.4 L749.2,897.0 L745.1,900.0 L741.0,903.4 L737.0,907.1 L733.1,911.2 L729.2,915.5 L725.3,920.0 L721.6,924.6 L717.9,929.4 L714.3,934.3 L710.8,939.2 L707.4,944.0 L704.0,948.7 L700.8,953.3 L697.6,957.7 L694.4,961.8 L691.3,965.6 L688.3,969.1 L685.3,972.2 L682.3,974.9 L679.3,977.1 L676.3,978.9 L673.4,980.1 L670.4,980.9 L667.5,981.1Z" fill="url(#Afront)"/><path d="M774.0,989.9 L778.2,989.6 L782.3,988.9 L786.5,987.6 L790.6,985.8 L794.7,983.6 L798.8,981.0 L802.9,978.0 L807.0,974.6 L811.0,970.9 L814.9,966.8 L818.8,962.5 L822.7,958.0 L826.4,953.4 L830.1,948.6 L833.7,943.7 L837.2,938.8 L840.6,934.0 L844.0,929.3 L847.2,924.7 L850.4,920.3 L853.6,916.2 L856.7,912.4 L859.7,908.9 L862.7,905.8 L865.7,903.1 L868.7,900.9 L871.7,899.1 L874.6,897.9 L877.6,897.1 L880.5,896.9 L880.5,888.1 L876.3,888.4 L872.2,889.1 L868.0,890.4 L863.9,892.2 L859.8,894.4 L855.7,897.0 L851.6,900.0 L847.5,903.4 L843.5,907.1 L839.6,911.2 L835.7,915.5 L831.8,920.0 L828.1,924.6 L824.4,929.4 L820.8,934.3 L817.3,939.2 L813.9,944.0 L810.5,948.7 L807.3,953.3 L804.1,957.7 L800.9,961.8 L797.8,965.6 L794.8,969.1 L791.8,972.2 L788.8,974.9 L785.8,977.1 L782.8,978.9 L779.9,980.1 L776.9,980.9 L774.0,981.1Z" fill="url(#Bfront)"/><path d="M880.5,989.9 L884.8,989.6 L889.1,988.8 L893.4,987.5 L897.6,985.6 L901.8,983.3 L906.0,980.5 L910.2,977.3 L914.4,973.8 L918.5,969.9 L922.5,965.6 L926.5,961.2 L930.5,956.5 L934.3,951.6 L938.0,946.7 L941.7,941.7 L945.3,936.7 L948.7,931.7 L952.1,926.9 L955.5,922.3 L958.7,918.0 L961.9,913.9 L965.1,910.2 L968.2,906.8 L971.3,903.9 L974.4,901.5 L977.4,899.6 L980.4,898.2 L983.5,897.3 L986.5,896.9 L989.5,897.1 L990.5,888.3 L986.2,888.1 L981.9,888.5 L977.7,889.4 L973.4,890.8 L969.1,892.8 L964.9,895.2 L960.7,898.0 L956.5,901.3 L952.4,904.9 L948.3,908.9 L944.2,913.1 L940.3,917.7 L936.4,922.4 L932.5,927.3 L928.8,932.2 L925.2,937.2 L921.6,942.2 L918.1,947.1 L914.8,951.9 L911.5,956.5 L908.2,960.8 L905.0,964.8 L901.9,968.5 L898.8,971.7 L895.7,974.5 L892.6,976.9 L889.5,978.7 L886.5,980.0 L883.5,980.8 L880.5,981.1Z" fill="url(#Afront)"/></g><rect x="1001.3" y="942.1" width="89.5" height="7.6" fill="url(#arrow2)"/><path d="M1090.3,926.9 L1122.7,946 L1090.3,965.3 Z" fill="#d0006e"/><g><path d="M1130.8,973.5 L1131.9,974.5 L1133.0,975.4 L1134.1,976.4 L1135.3,977.3 L1136.4,978.2 L1137.5,979.1 L1138.6,979.9 L1139.8,980.7 L1140.9,981.5 L1142.0,982.3 L1143.2,983.0 L1144.3,983.7 L1145.4,984.3 L1146.6,984.9 L1147.7,985.5 L1148.9,986.1 L1150.0,986.6 L1151.2,987.1 L1152.3,987.5 L1153.5,987.9 L1154.6,988.3 L1155.8,988.6 L1156.9,988.9 L1158.1,989.2 L1159.2,989.4 L1160.4,989.6 L1161.5,989.7 L1162.7,989.8 L1163.8,989.9 L1165.0,989.9 L1165.0,981.1 L1164.2,981.1 L1163.4,981.0 L1162.6,980.9 L1161.8,980.8 L1161.0,980.6 L1160.1,980.4 L1159.3,980.2 L1158.5,979.9 L1157.7,979.6 L1156.9,979.2 L1156.1,978.8 L1155.2,978.3 L1154.4,977.9 L1153.6,977.4 L1152.8,976.8 L1151.9,976.2 L1151.1,975.6 L1150.3,974.9 L1149.5,974.2 L1148.6,973.5 L1147.8,972.7 L1147.0,972.0 L1146.1,971.1 L1145.3,970.3 L1144.4,969.4 L1143.6,968.5 L1142.8,967.5 L1141.9,966.5 L1141.1,965.5 L1140.2,964.5Z" fill="url(#Bback)"/><path d="M1165.0,896.9 L1167.9,897.1 L1170.9,897.9 L1173.8,899.1 L1176.8,900.9 L1179.8,903.1 L1182.8,905.8 L1185.8,908.9 L1188.8,912.4 L1191.9,916.2 L1195.1,920.3 L1198.3,924.7 L1201.5,929.3 L1204.9,934.0 L1208.3,938.8 L1211.8,943.7 L1215.4,948.6 L1219.1,953.4 L1222.8,958.0 L1226.7,962.5 L1230.6,966.8 L1234.5,970.9 L1238.5,974.6 L1242.6,978.0 L1246.7,981.0 L1250.8,983.6 L1254.9,985.8 L1259.0,987.6 L1263.2,988.9 L1267.3,989.6 L1271.5,989.9 L1271.5,981.1 L1268.6,980.9 L1265.6,980.1 L1262.7,978.9 L1259.7,977.1 L1256.7,974.9 L1253.7,972.2 L1250.7,969.1 L1247.7,965.6 L1244.6,961.8 L1241.4,957.7 L1238.2,953.3 L1235.0,948.7 L1231.6,944.0 L1228.2,939.2 L1224.7,934.3 L1221.1,929.4 L1217.4,924.6 L1213.7,920.0 L1209.8,915.5 L1205.9,911.2 L1202.0,907.1 L1198.0,903.4 L1193.9,900.0 L1189.8,897.0 L1185.7,894.4 L1181.6,892.2 L1177.5,890.4 L1173.3,889.1 L1169.2,888.4 L1165.0,888.1Z" fill="url(#Aback)"/><path d="M1271.5,896.9 L1273.5,897.0 L1275.5,897.4 L1277.5,897.9 L1279.5,898.7 L1281.5,899.8 L1283.5,901.1 L1285.5,902.5 L1287.6,904.2 L1289.6,906.1 L1291.7,908.2 L1293.8,910.5 L1295.9,913.0 L1298.0,915.6 L1300.1,918.3 L1302.2,921.2 L1304.4,924.2 L1306.6,927.3 L1308.9,930.5 L1311.1,933.7 L1313.5,937.0 L1315.8,940.3 L1318.2,943.6 L1320.6,946.9 L1323.1,950.2 L1325.6,953.4 L1328.2,956.6 L1330.8,959.8 L1333.4,962.8 L1336.1,965.7 L1338.7,968.6 L1349.3,959.5 L1347.1,956.6 L1344.9,953.6 L1342.7,950.5 L1340.5,947.3 L1338.2,944.1 L1335.9,940.8 L1333.5,937.5 L1331.1,934.2 L1328.7,930.9 L1326.2,927.6 L1323.7,924.3 L1321.1,921.1 L1318.5,918.0 L1315.9,915.0 L1313.3,912.1 L1310.6,909.2 L1307.9,906.6 L1305.1,904.0 L1302.4,901.6 L1299.6,899.4 L1296.9,897.3 L1294.1,895.5 L1291.3,893.8 L1288.5,892.3 L1285.7,891.1 L1282.9,890.0 L1280.0,889.2 L1277.2,888.6 L1274.3,888.2 L1271.5,888.1Z" fill="url(#Bback)"/><path d="M1378.0,896.9 L1378.6,896.9 L1379.2,896.9 L1379.8,897.0 L1380.4,897.1 L1381.0,897.2 L1381.6,897.3 L1382.2,897.4 L1382.8,897.6 L1383.4,897.8 L1384.0,898.0 L1384.7,898.2 L1385.3,898.4 L1385.9,898.7 L1386.5,899.0 L1387.1,899.3 L1387.7,899.6 L1388.3,900.0 L1388.9,900.3 L1389.5,900.7 L1390.2,901.1 L1390.8,901.6 L1391.4,902.0 L1392.0,902.5 L1392.6,903.0 L1393.2,903.5 L1393.9,904.0 L1394.5,904.6 L1395.1,905.2 L1395.7,905.7 L1396.4,906.4 L1403.6,897.6 L1402.8,897.0 L1402.0,896.4 L1401.1,895.8 L1400.3,895.3 L1399.4,894.8 L1398.6,894.3 L1397.7,893.8 L1396.9,893.3 L1396.0,892.9 L1395.2,892.4 L1394.3,892.0 L1393.5,891.6 L1392.6,891.2 L1391.8,890.9 L1390.9,890.6 L1390.1,890.2 L1389.2,890.0 L1388.3,889.7 L1387.5,889.4 L1386.6,889.2 L1385.8,889.0 L1384.9,888.8 L1384.0,888.6 L1383.2,888.5 L1382.3,888.4 L1381.5,888.3 L1380.6,888.2 L1379.7,888.1 L1378.9,888.1 L1378.0,888.1Z" fill="url(#Aback)"/><path d="M1414.0,928.5 L1416.0,931.3 L1418.0,934.2 L1420.1,937.1 L1422.2,940.1 L1424.3,943.0 L1426.4,946.0 L1428.6,948.9 L1430.9,951.8 L1433.1,954.7 L1435.4,957.5 L1437.7,960.3 L1440.0,963.0 L1442.4,965.6 L1444.8,968.1 L1447.2,970.5 L1449.6,972.8 L1452.1,975.0 L1454.5,977.1 L1457.0,979.1 L1459.4,980.9 L1461.9,982.5 L1464.4,984.0 L1466.9,985.4 L1469.4,986.5 L1471.9,987.5 L1474.4,988.4 L1476.9,989.0 L1479.4,989.5 L1482.0,989.8 L1484.5,989.9 L1484.5,981.1 L1482.7,981.0 L1481.0,980.7 L1479.2,980.3 L1477.4,979.6 L1475.6,978.8 L1473.8,977.8 L1472.0,976.6 L1470.2,975.3 L1468.4,973.7 L1466.6,972.1 L1464.7,970.2 L1462.9,968.2 L1461.0,966.1 L1459.2,963.8 L1457.3,961.5 L1455.4,959.0 L1453.5,956.4 L1451.6,953.7 L1449.6,951.0 L1447.6,948.2 L1445.6,945.3 L1443.5,942.4 L1441.5,939.5 L1439.4,936.6 L1437.2,933.6 L1435.0,930.7 L1432.8,927.7 L1430.6,924.8 L1428.3,922.0 L1426.0,919.2Z" fill="url(#Aback)"/><path d="M1484.5,896.9 L1487.3,897.1 L1490.0,897.8 L1492.8,898.9 L1495.6,900.4 L1498.4,902.4 L1501.2,904.8 L1504.1,907.6 L1507.0,910.7 L1509.9,914.2 L1512.8,918.0 L1515.8,922.0 L1518.8,926.2 L1521.9,930.5 L1525.1,935.0 L1528.3,939.6 L1531.6,944.2 L1535.0,948.8 L1538.5,953.3 L1542.1,957.7 L1545.7,962.0 L1549.3,966.1 L1553.1,969.9 L1556.8,973.5 L1560.7,976.8 L1564.5,979.8 L1568.3,982.5 L1572.2,984.8 L1576.1,986.6 L1580.0,988.1 L1583.9,989.2 L1586.1,980.4 L1583.3,979.4 L1580.5,977.9 L1577.7,976.0 L1574.9,973.7 L1572.0,971.0 L1569.1,967.9 L1566.3,964.5 L1563.3,960.8 L1560.4,956.9 L1557.3,952.7 L1554.2,948.4 L1551.1,943.9 L1547.9,939.4 L1544.6,934.8 L1541.2,930.2 L1537.7,925.6 L1534.2,921.2 L1530.6,916.9 L1526.9,912.8 L1523.2,908.9 L1519.4,905.2 L1515.6,901.8 L1511.8,898.8 L1508.0,896.1 L1504.1,893.7 L1500.2,891.7 L1496.3,890.2 L1492.4,889.0 L1488.4,888.3 L1484.5,888.1Z" fill="url(#Bback)"/><rect x="1161.5" y="890.0" width="7.0" height="49.0" rx="3.5" fill="url(#baro)"/><rect x="1161.5" y="934.5" width="7.0" height="4.5" fill="url(#baro)"/><rect x="1161.5" y="939.0" width="7.0" height="49.0" rx="3.5" fill="url(#barg)"/><rect x="1161.5" y="939.0" width="7.0" height="4.5" fill="url(#barg)"/><rect x="1181.0" y="897.5" width="7.0" height="41.5" rx="3.5" fill="url(#barp)"/><rect x="1181.0" y="934.5" width="7.0" height="4.5" fill="url(#barp)"/><rect x="1181.0" y="939.0" width="7.0" height="41.5" rx="3.5" fill="url(#barb)"/><rect x="1181.0" y="939.0" width="7.0" height="4.5" fill="url(#barb)"/><rect x="1200.0" y="916.9" width="7.0" height="22.1" rx="3.5" fill="url(#barb)"/><rect x="1200.0" y="934.5" width="7.0" height="4.5" fill="url(#barb)"/><rect x="1200.0" y="939.0" width="7.0" height="22.1" rx="3.5" fill="url(#bary)"/><rect x="1200.0" y="939.0" width="7.0" height="4.5" fill="url(#bary)"/><rect x="1226.5" y="920.7" width="7.0" height="18.3" rx="3.5" fill="url(#barg)"/><rect x="1226.5" y="934.5" width="7.0" height="4.5" fill="url(#barg)"/><rect x="1226.5" y="939.0" width="7.0" height="18.3" rx="3.5" fill="url(#baro)"/><rect x="1226.5" y="939.0" width="7.0" height="4.5" fill="url(#baro)"/><rect x="1246.5" y="899.0" width="7.0" height="40.0" rx="3.5" fill="url(#barg)"/><rect x="1246.5" y="934.5" width="7.0" height="4.5" fill="url(#barg)"/><rect x="1246.5" y="939.0" width="7.0" height="40.0" rx="3.5" fill="url(#barb)"/><rect x="1246.5" y="939.0" width="7.0" height="4.5" fill="url(#barb)"/><rect x="1268.0" y="890.0" width="7.0" height="49.0" rx="3.5" fill="url(#barg)"/><rect x="1268.0" y="934.5" width="7.0" height="4.5" fill="url(#barg)"/><rect x="1268.0" y="939.0" width="7.0" height="49.0" rx="3.5" fill="url(#barp)"/><rect x="1268.0" y="939.0" width="7.0" height="4.5" fill="url(#barp)"/><rect x="1287.5" y="897.5" width="7.0" height="41.5" rx="3.5" fill="url(#bary)"/><rect x="1287.5" y="934.5" width="7.0" height="4.5" fill="url(#bary)"/><rect x="1287.5" y="939.0" width="7.0" height="41.5" rx="3.5" fill="url(#baro)"/><rect x="1287.5" y="939.0" width="7.0" height="4.5" fill="url(#baro)"/><rect x="1306.5" y="916.9" width="7.0" height="22.1" rx="3.5" fill="url(#barg)"/><rect x="1306.5" y="934.5" width="7.0" height="4.5" fill="url(#barg)"/><rect x="1306.5" y="939.0" width="7.0" height="22.1" rx="3.5" fill="url(#barb)"/><rect x="1306.5" y="939.0" width="7.0" height="4.5" fill="url(#barb)"/><rect x="1333.0" y="920.7" width="7.0" height="18.3" rx="3.5" fill="url(#barp)"/><rect x="1333.0" y="934.5" width="7.0" height="4.5" fill="url(#barp)"/><rect x="1333.0" y="939.0" width="7.0" height="18.3" rx="3.5" fill="url(#barg)"/><rect x="1333.0" y="939.0" width="7.0" height="4.5" fill="url(#barg)"/><rect x="1353.0" y="899.0" width="7.0" height="30.0" rx="3.5" fill="url(#barb)"/><rect x="1374.5" y="890.0" width="7.0" height="29.0" rx="3.5" fill="url(#bary)"/><rect x="1372.0" y="977.0" width="7.0" height="14.0" rx="3.5" fill="url(#baro)"/><rect x="1394.0" y="955.7" width="7.0" height="24.8" rx="3.5" fill="url(#barg)"/><rect x="1413.0" y="916.9" width="7.0" height="22.1" rx="3.5" fill="url(#barp)"/><rect x="1413.0" y="934.5" width="7.0" height="4.5" fill="url(#barp)"/><rect x="1413.0" y="939.0" width="7.0" height="22.1" rx="3.5" fill="url(#barg)"/><rect x="1413.0" y="939.0" width="7.0" height="4.5" fill="url(#barg)"/><rect x="1439.5" y="920.7" width="7.0" height="18.3" rx="3.5" fill="url(#barg)"/><rect x="1439.5" y="934.5" width="7.0" height="4.5" fill="url(#barg)"/><rect x="1439.5" y="939.0" width="7.0" height="18.3" rx="3.5" fill="url(#barb)"/><rect x="1439.5" y="939.0" width="7.0" height="4.5" fill="url(#barb)"/><rect x="1459.5" y="899.0" width="7.0" height="40.0" rx="3.5" fill="url(#barb)"/><rect x="1459.5" y="934.5" width="7.0" height="4.5" fill="url(#barb)"/><rect x="1459.5" y="939.0" width="7.0" height="40.0" rx="3.5" fill="url(#baro)"/><rect x="1459.5" y="939.0" width="7.0" height="4.5" fill="url(#baro)"/><rect x="1481.0" y="890.0" width="7.0" height="49.0" rx="3.5" fill="url(#barg)"/><rect x="1481.0" y="934.5" width="7.0" height="4.5" fill="url(#barg)"/><rect x="1481.0" y="939.0" width="7.0" height="49.0" rx="3.5" fill="url(#barp)"/><rect x="1481.0" y="939.0" width="7.0" height="4.5" fill="url(#barp)"/><rect x="1500.5" y="897.5" width="7.0" height="41.5" rx="3.5" fill="url(#bary)"/><rect x="1500.5" y="934.5" width="7.0" height="4.5" fill="url(#bary)"/><rect x="1500.5" y="939.0" width="7.0" height="41.5" rx="3.5" fill="url(#barb)"/><rect x="1500.5" y="939.0" width="7.0" height="4.5" fill="url(#barb)"/><rect x="1519.5" y="916.9" width="7.0" height="22.1" rx="3.5" fill="url(#barg)"/><rect x="1519.5" y="934.5" width="7.0" height="4.5" fill="url(#barg)"/><rect x="1519.5" y="939.0" width="7.0" height="22.1" rx="3.5" fill="url(#barp)"/><rect x="1519.5" y="939.0" width="7.0" height="4.5" fill="url(#barp)"/><rect x="1546.0" y="920.7" width="7.0" height="18.3" rx="3.5" fill="url(#barp)"/><rect x="1546.0" y="934.5" width="7.0" height="4.5" fill="url(#barp)"/><rect x="1546.0" y="939.0" width="7.0" height="18.3" rx="3.5" fill="url(#barg)"/><rect x="1546.0" y="939.0" width="7.0" height="4.5" fill="url(#barg)"/><path d="M1140.2,913.5 L1141.1,912.5 L1141.9,911.5 L1142.8,910.5 L1143.6,909.5 L1144.4,908.6 L1145.3,907.7 L1146.1,906.9 L1147.0,906.0 L1147.8,905.3 L1148.6,904.5 L1149.5,903.8 L1150.3,903.1 L1151.1,902.4 L1151.9,901.8 L1152.8,901.2 L1153.6,900.6 L1154.4,900.1 L1155.2,899.7 L1156.1,899.2 L1156.9,898.8 L1157.7,898.4 L1158.5,898.1 L1159.3,897.8 L1160.1,897.6 L1161.0,897.4 L1161.8,897.2 L1162.6,897.1 L1163.4,897.0 L1164.2,896.9 L1165.0,896.9 L1165.0,888.1 L1163.8,888.1 L1162.7,888.2 L1161.5,888.3 L1160.4,888.4 L1159.2,888.6 L1158.1,888.8 L1156.9,889.1 L1155.8,889.4 L1154.6,889.7 L1153.5,890.1 L1152.3,890.5 L1151.2,890.9 L1150.0,891.4 L1148.9,891.9 L1147.7,892.5 L1146.6,893.1 L1145.4,893.7 L1144.3,894.3 L1143.2,895.0 L1142.0,895.7 L1140.9,896.5 L1139.8,897.3 L1138.6,898.1 L1137.5,898.9 L1136.4,899.8 L1135.3,900.7 L1134.1,901.6 L1133.0,902.6 L1131.9,903.5 L1130.8,904.5Z" fill="url(#Afront)"/><path d="M1165.0,989.9 L1169.2,989.6 L1173.3,988.9 L1177.5,987.6 L1181.6,985.8 L1185.7,983.6 L1189.8,981.0 L1193.9,978.0 L1198.0,974.6 L1202.0,970.9 L1205.9,966.8 L1209.8,962.5 L1213.7,958.0 L1217.4,953.4 L1221.1,948.6 L1224.7,943.7 L1228.2,938.8 L1231.6,934.0 L1235.0,929.3 L1238.2,924.7 L1241.4,920.3 L1244.6,916.2 L1247.7,912.4 L1250.7,908.9 L1253.7,905.8 L1256.7,903.1 L1259.7,900.9 L1262.7,899.1 L1265.6,897.9 L1268.6,897.1 L1271.5,896.9 L1271.5,888.1 L1267.3,888.4 L1263.2,889.1 L1259.0,890.4 L1254.9,892.2 L1250.8,894.4 L1246.7,897.0 L1242.6,900.0 L1238.5,903.4 L1234.5,907.1 L1230.6,911.2 L1226.7,915.5 L1222.8,920.0 L1219.1,924.6 L1215.4,929.4 L1211.8,934.3 L1208.3,939.2 L1204.9,944.0 L1201.5,948.7 L1198.3,953.3 L1195.1,957.7 L1191.9,961.8 L1188.8,965.6 L1185.8,969.1 L1182.8,972.2 L1179.8,974.9 L1176.8,977.1 L1173.8,978.9 L1170.9,980.1 L1167.9,980.9 L1165.0,981.1Z" fill="url(#Bfront)"/><path d="M1271.5,989.9 L1275.7,989.6 L1279.8,988.9 L1284.0,987.6 L1288.1,985.8 L1292.2,983.6 L1296.3,981.0 L1300.4,978.0 L1304.5,974.6 L1308.5,970.9 L1312.4,966.8 L1316.3,962.5 L1320.2,958.0 L1323.9,953.4 L1327.6,948.6 L1331.2,943.7 L1334.7,938.8 L1338.1,934.0 L1341.5,929.3 L1344.7,924.7 L1347.9,920.3 L1351.1,916.2 L1354.2,912.4 L1357.2,908.9 L1360.2,905.8 L1363.2,903.1 L1366.2,900.9 L1369.2,899.1 L1372.1,897.9 L1375.1,897.1 L1378.0,896.9 L1378.0,888.1 L1373.8,888.4 L1369.7,889.1 L1365.5,890.4 L1361.4,892.2 L1357.3,894.4 L1353.2,897.0 L1349.1,900.0 L1345.0,903.4 L1341.0,907.1 L1337.1,911.2 L1333.2,915.5 L1329.3,920.0 L1325.6,924.6 L1321.9,929.4 L1318.3,934.3 L1314.8,939.2 L1311.4,944.0 L1308.0,948.7 L1304.8,953.3 L1301.6,957.7 L1298.4,961.8 L1295.3,965.6 L1292.3,969.1 L1289.3,972.2 L1286.3,974.9 L1283.3,977.1 L1280.3,978.9 L1277.4,980.1 L1274.4,980.9 L1271.5,981.1Z" fill="url(#Afront)"/><path d="M1378.0,989.9 L1382.2,989.6 L1386.3,988.9 L1390.5,987.6 L1394.6,985.8 L1398.7,983.6 L1402.8,981.0 L1406.9,978.0 L1411.0,974.6 L1415.0,970.9 L1418.9,966.8 L1422.8,962.5 L1426.7,958.0 L1430.4,953.4 L1434.1,948.6 L1437.7,943.7 L1441.2,938.8 L1444.6,934.0 L1448.0,929.3 L1451.2,924.7 L1454.4,920.3 L1457.6,916.2 L1460.7,912.4 L1463.7,908.9 L1466.7,905.8 L1469.7,903.1 L1472.7,900.9 L1475.7,899.1 L1478.6,897.9 L1481.6,897.1 L1484.5,896.9 L1484.5,888.1 L1480.3,888.4 L1476.2,889.1 L1472.0,890.4 L1467.9,892.2 L1463.8,894.4 L1459.7,897.0 L1455.6,900.0 L1451.5,903.4 L1447.5,907.1 L1443.6,911.2 L1439.7,915.5 L1435.8,920.0 L1432.1,924.6 L1428.4,929.4 L1424.8,934.3 L1421.3,939.2 L1417.9,944.0 L1414.5,948.7 L1411.3,953.3 L1408.1,957.7 L1404.9,961.8 L1401.8,965.6 L1398.8,969.1 L1395.8,972.2 L1392.8,974.9 L1389.8,977.1 L1386.8,978.9 L1383.9,980.1 L1380.9,980.9 L1378.0,981.1Z" fill="url(#Bfront)"/><path d="M1484.5,989.9 L1488.8,989.6 L1493.1,988.8 L1497.4,987.5 L1501.6,985.6 L1505.8,983.3 L1510.0,980.5 L1514.2,977.3 L1518.4,973.8 L1522.5,969.9 L1526.5,965.6 L1530.5,961.2 L1534.5,956.5 L1538.3,951.6 L1542.0,946.7 L1545.7,941.7 L1549.3,936.7 L1552.7,931.7 L1556.1,926.9 L1559.5,922.3 L1562.7,918.0 L1565.9,913.9 L1569.1,910.2 L1572.2,906.8 L1575.3,903.9 L1578.4,901.5 L1581.4,899.6 L1584.4,898.2 L1587.5,897.3 L1590.5,896.9 L1593.5,897.1 L1594.5,888.3 L1590.2,888.1 L1585.9,888.5 L1581.7,889.4 L1577.4,890.8 L1573.1,892.8 L1568.9,895.2 L1564.7,898.0 L1560.5,901.3 L1556.4,904.9 L1552.3,908.9 L1548.2,913.1 L1544.3,917.7 L1540.4,922.4 L1536.5,927.3 L1532.8,932.2 L1529.2,937.2 L1525.6,942.2 L1522.1,947.1 L1518.8,951.9 L1515.5,956.5 L1512.2,960.8 L1509.0,964.8 L1505.9,968.5 L1502.8,971.7 L1499.7,974.5 L1496.6,976.9 L1493.5,978.7 L1490.5,980.0 L1487.5,980.8 L1484.5,981.1Z" fill="url(#Afront)"/><path d="M1417,864.8 L1426.8,876.8 L1411.3,897.2 L1403.6,883.8Z" fill="#0a2a78"/><path d="M1407,880 L1422,887 L1420,893 L1405,886Z" fill="url(#barp)"/><path d="M1432.5,877.5 L1446.6,871.1 L1453,879.6 L1442.4,886.6Z" fill="#0a2a78"/><rect x="1440.5" y="874" width="7" height="12" rx="3" fill="url(#barp)"/><path d="M1425,890 L1428,887 L1437,896 L1432,902Z" fill="url(#barp)"/><path d="M1360.6,990 L1373.3,985.3 L1371,991Z" fill="#6a2024"/><path d="M1332,960 L1344,957 L1343,966 L1336,968.4Z" fill="#8a3030"/><path d="M1313.4,992.3 L1318.3,988.8 L1338,986.7 L1339.5,991 L1333.8,996.6 L1321,1000.8Z" fill="#6a2024"/><path d="M1316,983 L1321,977.5 L1333,987 L1328,993Z" fill="url(#barg)"/><rect x="1340.5" y="1000" width="7.5" height="15.6" fill="url(#baro)"/><path d="M1329,1010 L1334,1004 L1354,1019 L1350,1026Z" fill="url(#barg)"/><path d="M1329,1010 L1334,1004 L1340,1008.5 L1336,1015Z" fill="url(#barb)"/><path d="M1356.4,1010 L1369,1001.5 L1372.6,1007.9 L1366.2,1020.5Z" fill="#6a2024"/></g></svg></body></html>
